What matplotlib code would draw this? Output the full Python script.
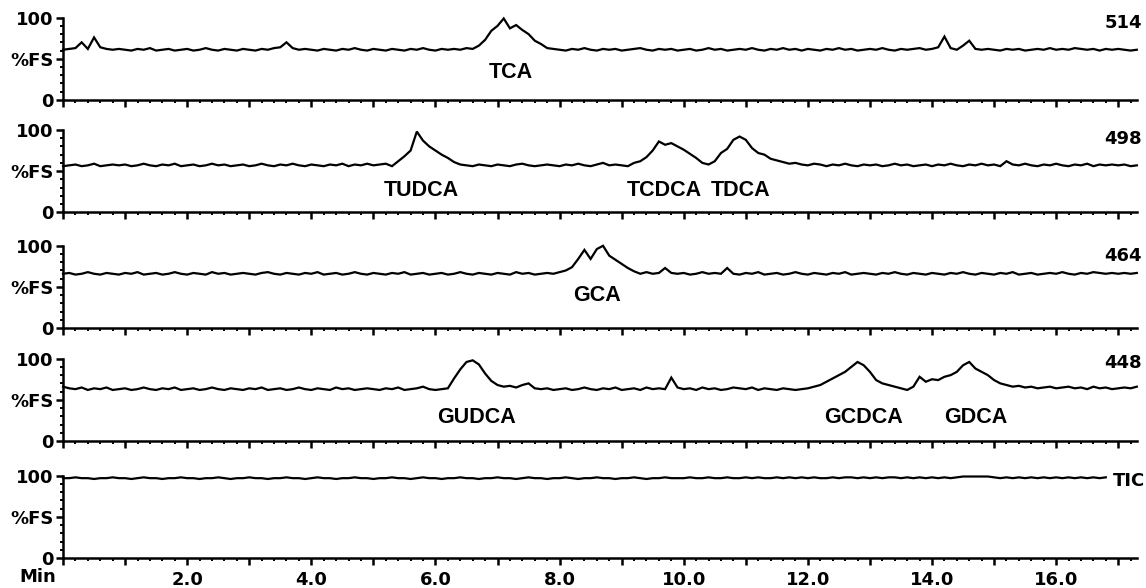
import numpy as np
import matplotlib
matplotlib.use("Agg")
import matplotlib.pyplot as plt
from matplotlib.ticker import MultipleLocator, FixedLocator

# ---------------------------------------------------------------
# sampling times (min) of the traces, 0.1 min apart
TIME = np.round(np.arange(174) * 0.1, 1)

# ion traces, %FS (one row = 1 min)
ION_514 = [
    61, 62, 63, 70, 62, 76, 64, 62, 61, 62,
    61, 60, 62, 61, 63, 60, 61, 62, 60, 61,
    62, 60, 61, 63, 61, 60, 62, 61, 60, 62,
    61, 60, 62, 61, 63, 64, 70, 63, 61, 62,
    61, 60, 62, 61, 60, 62, 61, 63, 61, 60,
    62, 61, 60, 62, 61, 60, 62, 61, 63, 61,
    60, 62, 61, 62, 61, 63, 62, 66, 73, 84,
    90, 99, 87, 91, 85, 80, 72, 68, 63, 62,
    61, 60, 62, 61, 63, 61, 60, 62, 61, 62,
    60, 61, 62, 63, 61, 60, 62, 61, 62, 60,
    61, 62, 60, 61, 63, 61, 62, 60, 61, 62,
    61, 63, 61, 60, 62, 61, 63, 61, 62, 60,
    62, 61, 60, 62, 61, 63, 61, 62, 60, 61,
    62, 61, 63, 61, 60, 62, 61, 62, 63, 61,
    62, 64, 77, 63, 61, 66, 72, 62, 61, 62,
    61, 60, 62, 61, 62, 60, 61, 62, 61, 63,
    61, 62, 61, 63, 62, 61, 62, 60, 62, 61,
    62, 61, 60, 61,
]
ION_498 = [
    56, 57, 58, 56, 57, 59, 56, 57, 58, 57,
    58, 56, 57, 59, 57, 56, 58, 57, 59, 56,
    57, 58, 56, 57, 59, 57, 58, 56, 57, 58,
    56, 57, 59, 57, 56, 58, 57, 59, 57, 56,
    58, 57, 56, 58, 57, 59, 56, 58, 57, 59,
    57, 58, 59, 56, 62, 68, 75, 98, 87, 80,
    75, 70, 66, 61, 58, 57, 56, 58, 57, 56,
    58, 57, 56, 58, 59, 57, 56, 57, 58, 57,
    56, 58, 57, 59, 57, 56, 58, 60, 57, 58,
    57, 56, 60, 62, 67, 75, 86, 82, 84, 80,
    76, 71, 66, 60, 58, 62, 72, 77, 88, 92,
    88, 78, 72, 70, 65, 63, 61, 59, 60, 58,
    57, 59, 58, 56, 58, 57, 59, 57, 56, 58,
    57, 58, 56, 57, 59, 57, 58, 56, 57, 58,
    56, 58, 57, 59, 57, 56, 58, 57, 59, 57,
    58, 56, 62, 58, 57, 59, 57, 56, 58, 57,
    59, 57, 56, 58, 57, 59, 56, 58, 57, 58,
    57, 58, 56, 57,
]
ION_464 = [
    66, 67, 65, 66, 68, 66, 65, 67, 66, 65,
    67, 66, 68, 65, 66, 67, 65, 66, 68, 66,
    65, 67, 66, 65, 68, 66, 67, 65, 66, 67,
    66, 65, 67, 68, 66, 65, 67, 66, 65, 67,
    66, 68, 65, 66, 67, 65, 66, 68, 66, 65,
    67, 66, 65, 67, 66, 68, 65, 66, 67, 65,
    66, 67, 65, 66, 68, 66, 65, 67, 66, 65,
    67, 66, 65, 68, 66, 67, 65, 66, 67, 66,
    68, 70, 74, 84, 95, 84, 96, 100, 88, 83,
    78, 73, 69, 66, 68, 66, 67, 73, 67, 66,
    67, 65, 66, 68, 66, 67, 66, 73, 66, 65,
    67, 66, 68, 65, 66, 67, 65, 66, 68, 66,
    65, 67, 66, 65, 67, 66, 68, 65, 66, 67,
    66, 65, 67, 66, 68, 66, 65, 67, 66, 65,
    67, 66, 65, 67, 66, 68, 66, 65, 67, 66,
    65, 67, 66, 68, 65, 66, 67, 65, 66, 67,
    66, 68, 66, 65, 67, 66, 68, 67, 66, 67,
    66, 67, 66, 67,
]
ION_448 = [
    66, 64, 63, 65, 62, 64, 63, 65, 62, 63,
    64, 62, 63, 65, 63, 62, 64, 63, 65, 62,
    63, 64, 62, 63, 65, 63, 62, 64, 63, 62,
    64, 63, 65, 62, 63, 64, 62, 63, 65, 63,
    62, 64, 63, 62, 65, 63, 64, 62, 63, 64,
    63, 62, 64, 63, 65, 62, 63, 64, 66, 63,
    62, 63, 64, 76, 87, 96, 98, 93, 82, 73,
    68, 66, 67, 65, 68, 70, 64, 63, 64, 62,
    63, 64, 62, 63, 65, 63, 62, 64, 63, 65,
    62, 63, 64, 62, 65, 63, 64, 63, 77, 65,
    63, 64, 62, 65, 63, 64, 62, 63, 65, 64,
    63, 65, 62, 64, 63, 62, 64, 63, 62, 63,
    64, 66, 68, 72, 76, 80, 84, 90, 96, 92,
    84, 74, 70, 68, 66, 64, 62, 66, 78, 72,
    75, 74, 78, 80, 84, 92, 96, 88, 84, 80,
    74, 70, 68, 66, 67, 65, 66, 64, 65, 66,
    64, 65, 66, 64, 65, 63, 66, 64, 65, 63,
    64, 65, 64, 66,
]
ION_TIC = [
    97, 97, 98, 97, 97, 96, 97, 97, 98, 97,
    97, 96, 97, 98, 97, 97, 96, 97, 97, 98,
    97, 97, 96, 97, 97, 98, 97, 96, 97, 97,
    98, 97, 97, 96, 97, 97, 98, 97, 97, 96,
    97, 98, 97, 97, 96, 97, 97, 98, 97, 97,
    96, 97, 97, 98, 97, 97, 96, 97, 98, 97,
    97, 96, 97, 97, 98, 97, 97, 96, 97, 97,
    98, 97, 97, 96, 97, 98, 97, 97, 96, 97,
    97, 98, 97, 96, 97, 97, 98, 97, 97, 96,
    97, 97, 98, 97, 96, 97, 97, 98, 97, 97,
    97, 98, 97, 97, 98, 97, 97, 98, 97, 97,
    98, 97, 98, 97, 97, 98, 97, 98, 97, 98,
    97, 98, 97, 97, 98, 97, 98, 98, 97, 98,
    97, 98, 97, 98, 98, 97, 98, 97, 98, 97,
    98, 97, 98, 97, 98, 99, 99, 99, 99, 99,
    98, 97, 98, 97, 98, 97, 98, 97, 98, 97,
    98, 97, 98, 97, 98, 97, 98, 97, 98,
]

TRACES = [ION_514, ION_498, ION_464, ION_448, ION_TIC]
TRACE_NAMES = ["514", "498", "464", "448", "TIC"]
NAME_Y = [0.94, 0.89, 0.88, 0.95, 0.94]

# peak annotations: (panel, label, time, %FS)
PEAK_PANEL = [0, 1, 1, 1, 2, 3, 3, 3]
PEAK_LABELS = ["TCA", "TUDCA", "TCDCA", "TDCA", "GCA", "GUDCA", "GCDCA", "GDCA"]
PEAK_TIME = [7.21, 5.77, 9.68, 10.92, 8.61, 6.66, 12.89, 14.71]
PEAK_Y = [33, 27, 27, 27, 40, 29, 29, 29]

X_MAX = 17.3
X_LABELS = [2.0, 4.0, 6.0, 8.0, 10.0, 12.0, 14.0, 16.0]

# panel bottoms in figure fraction, top panel first
PANEL_BOTTOMS = [0.830, 0.639, 0.442, 0.250, 0.051]
PANEL_HEIGHT = 0.140
LEFT, WIDTH = 0.055, 0.937

PRINT_FONT = dict(family="DejaVu Sans", weight="bold", size=13)
PEAK_FONT = dict(family="Liberation Sans", weight="bold", size=15.5)
# ---------------------------------------------------------------


def plot_data():
    fig = plt.figure(figsize=(11.46, 5.88), dpi=100)

    for i, trace in enumerate(TRACES):
        ax = fig.add_axes([LEFT, PANEL_BOTTOMS[i], WIDTH, PANEL_HEIGHT])
        ax.plot(TIME[:len(trace)], trace, color="black", linewidth=1.6,
                solid_joinstyle="miter", clip_on=False)

        ax.set_xlim(0, X_MAX)
        ax.set_ylim(0, 100)

        for side in ["top", "right"]:
            ax.spines[side].set_visible(False)
        for side in ["left", "bottom"]:
            ax.spines[side].set_linewidth(1.8)

        # x ticks: every minute, minor every 0.2 min, pointing down
        ax.xaxis.set_major_locator(MultipleLocator(1.0))
        ax.xaxis.set_minor_locator(MultipleLocator(0.2))
        ax.tick_params(axis="x", which="major", direction="out", length=5, width=1.8)
        ax.tick_params(axis="x", which="minor", direction="out", length=2.5, width=1.4)

        # y ticks: 0 / %FS / 100
        ax.yaxis.set_major_locator(FixedLocator([0, 50, 100]))
        ax.yaxis.set_minor_locator(MultipleLocator(10))
        ax.set_yticklabels(["0", "%FS", "100"], fontdict=PRINT_FONT)
        ax.tick_params(axis="y", which="major", direction="out", length=5, width=1.8, pad=2)
        ax.tick_params(axis="y", which="minor", direction="out", length=2.5, width=1.4)

        if i < len(TRACES) - 1:
            ax.set_xticklabels([])
        else:
            ax.set_xticks(X_LABELS, minor=False)
            ax.xaxis.set_major_locator(MultipleLocator(1.0))
            ax.set_xticklabels([f"{v:.1f}" if v in X_LABELS else "" for v in ax.get_xticks()],
                               fontdict=PRINT_FONT)
            ax.tick_params(axis="x", which="major", pad=4)
            ax.text(-0.024, -0.235, "Min", transform=ax.transAxes, ha="center", va="center",
                    **PRINT_FONT)

        # ion label at the right
        ax.text(1.0075 if i == 4 else 1.0045, NAME_Y[i], TRACE_NAMES[i],
                transform=ax.transAxes, ha="right", va="center", **PRINT_FONT,
                bbox=dict(facecolor="white", edgecolor="none", pad=0.5))

        for p, lab, t, y in zip(PEAK_PANEL, PEAK_LABELS, PEAK_TIME, PEAK_Y):
            if p == i:
                ax.text(t, y, lab, ha="center", va="center", **PEAK_FONT)

    plt.savefig("out.png", dpi=100)


if __name__ == "__main__":
    plot_data()
